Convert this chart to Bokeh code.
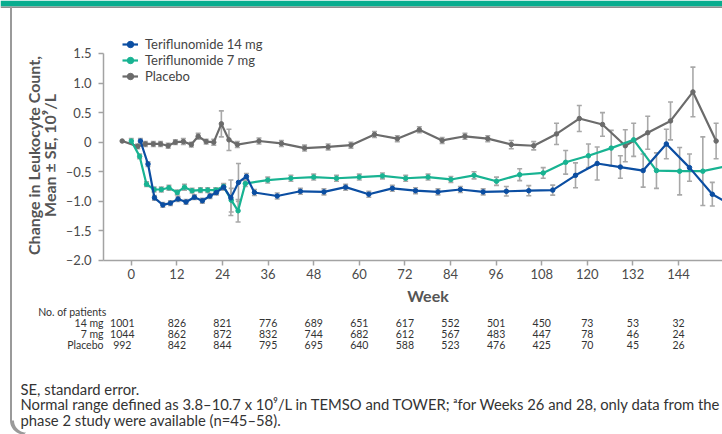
import numpy as np
from bokeh.plotting import figure
from bokeh.models import (Range1d, FixedTicker, Legend, LegendItem, Label,
                          Whisker, TeeHead, ColumnDataSource, PolyAnnotation)
from bokeh.embed import file_html
from bokeh.resources import INLINE

# ---------------- data ----------------
weeks_14 = [2.4, 4.4, 6.1, 8.3, 10.3, 12.3, 14.4, 16.6, 18.7, 20.7, 22.4, 24.3, 26.2, 28.2,
            30.3, 32.4, 38.4, 44.5, 50.7, 56.4, 62.5, 68.7, 74.8, 80.7, 86.6, 92.6, 98.7,
            104.6, 110.9, 116.9, 122.6, 128.7, 134.7, 140.8, 146.9, 152.9, 158.9]
mean_14 = [0.02, -0.37, -0.94, -1.06, -1.03, -0.96, -1.01, -0.93, -0.99, -0.91, -0.85, -0.76,
           -0.94, -0.68, -0.58, -0.85, -0.91, -0.83, -0.84, -0.76, -0.88, -0.78, -0.82, -0.84,
           -0.80, -0.84, -0.83, -0.82, -0.81, -0.56, -0.36, -0.42, -0.48, -0.03, -0.43, -0.88, -1.10]
se_14 = [0.04, 0.04, 0.04, 0.04, 0.04, 0.04, 0.04, 0.04, 0.04, 0.04, 0.04, 0.05, 0.30, 0.32,
         0.05, 0.05, 0.05, 0.05, 0.05, 0.05, 0.05, 0.05, 0.05, 0.05, 0.05, 0.05, 0.08, 0.085,
         0.085, 0.21, 0.28, 0.19, 0.28, 0.25, 0.23, 0.20, 0.20]

weeks_7 = [0.0, 2.2, 4.0, 6.0, 7.9, 9.9, 12.1, 14.0, 16.0, 18.2, 20.1, 22.2, 24.3, 26.3, 28.1,
           30.0, 35.9, 42.0, 48.0, 54.0, 60.0, 66.1, 72.2, 78.1, 84.1, 90.2, 96.1, 102.2,
           108.4, 114.3, 120.3, 126.3, 132.2, 138.2, 144.3, 150.4, 156.4]
mean_7 = [0.02, -0.24, -0.71, -0.80, -0.80, -0.77, -0.85, -0.76, -0.82, -0.81, -0.81, -0.81,
          -0.75, -0.98, -1.16, -0.70, -0.64, -0.61, -0.59, -0.61, -0.59, -0.57, -0.61, -0.59,
          -0.63, -0.56, -0.66, -0.55, -0.52, -0.34, -0.23, -0.10, 0.04, -0.48, -0.49, -0.49, -0.41]
se_7 = [0.04, 0.04, 0.04, 0.04, 0.04, 0.04, 0.04, 0.05, 0.04, 0.04, 0.04, 0.04, 0.05, 0.20,
        0.19, 0.05, 0.05, 0.05, 0.05, 0.05, 0.05, 0.05, 0.05, 0.05, 0.05, 0.06, 0.07, 0.10,
        0.09, 0.20, 0.20, 0.30, 0.28, 0.30, 0.40, 0.58, 0.30]

weeks_pbo = [-2.4, 1.7, 3.7, 5.8, 7.7, 9.7, 11.6, 13.7, 15.8, 17.6, 19.7, 21.7, 23.7, 25.7,
             27.9, 33.6, 39.5, 45.6, 51.8, 57.8, 64.0, 70.0, 75.8, 81.8, 87.8, 93.8, 100.0,
             105.9, 111.9, 117.9, 124.0, 130.0, 135.9, 141.9, 147.8, 153.9]
mean_pbo = [0.02, -0.07, -0.03, -0.03, -0.03, -0.06, 0.00, 0.01, -0.04, 0.10, 0.01, 0.00,
            0.31, 0.04, -0.04, 0.02, -0.02, -0.10, -0.08, -0.05, 0.13, 0.06, 0.21, 0.03, 0.10,
            0.06, -0.04, -0.06, 0.14, 0.40, 0.30, -0.06, 0.16, 0.36, 0.85, 0.02]
se_pbo = [0.0, 0.04, 0.04, 0.04, 0.04, 0.04, 0.04, 0.05, 0.04, 0.05, 0.04, 0.05, 0.22, 0.18,
          0.05, 0.05, 0.05, 0.05, 0.05, 0.05, 0.05, 0.05, 0.05, 0.05, 0.05, 0.05, 0.07, 0.07,
          0.18, 0.22, 0.20, 0.27, 0.28, 0.32, 0.42, 0.30]

x_ticks = [0, 12, 24, 36, 48, 60, 72, 84, 96, 108, 120, 132, 144]
y_ticks = [-2.0, -1.5, -1.0, -0.5, 0.0, 0.5, 1.0, 1.5]
y_tick_labels = ["\u20132.0", "\u20131.5", "\u20131.0", "\u20130.5", "0", "0.5", "1.0", "1.5"]

table_weeks = [0, 12, 24, 36, 48, 60, 72, 84, 96, 108, 120, 132, 144]
table_rows = ["14 mg", "7 mg", "Placebo"]
n_14 = [1001, 826, 821, 776, 689, 651, 617, 552, 501, 450, 73, 53, 32]
n_7 = [1044, 862, 872, 832, 744, 682, 612, 567, 483, 447, 78, 46, 24]
n_pbo = [992, 842, 844, 795, 695, 640, 588, 523, 476, 425, 70, 45, 26]

series_names = ["Teriflunomide 14 mg", "Teriflunomide 7 mg", "Placebo"]

# ---------------- style / layout ----------------
FONT = "Lato"
BLUE = "#0b4ea2"
TEAL = "#18b392"
GRAY = "#6b6b6b"
BAR = "#a8a8a8"
AXIS = "#a3a3a3"
TXT = "#4a4a4a"

W, H = 722, 434
PX_W0, PX_PER_WEEK = 130.8, 3.8      # pixel of week 0, pixels per week
PX_V0, PX_PER_UNIT = 141.7, 59.14    # pixel of value 0, pixels per unit
X_MIN, X_MAX = -PX_W0 / PX_PER_WEEK, (W - PX_W0) / PX_PER_WEEK
Y_MIN, Y_MAX = (PX_V0 - H) / PX_PER_UNIT, PX_V0 / PX_PER_UNIT


def dx(px):  # canvas pixel -> data x
    return (px - PX_W0) / PX_PER_WEEK


def dy(py):  # canvas pixel -> data y
    return (PX_V0 - py) / PX_PER_UNIT


p = figure(width=W, height=H, x_range=Range1d(X_MIN, X_MAX), y_range=Range1d(Y_MIN, Y_MAX),
           output_backend="svg", toolbar_location=None,
           min_border_left=0, min_border_right=0, min_border_top=0, min_border_bottom=0)
p.outline_line_color = None
p.grid.visible = False
p.background_fill_color = "white"
p.border_fill_color = "white"

AXIS_X = dx(103)
for ax in (p.xaxis[0], p.yaxis[0]):
    ax.axis_line_color = AXIS
    ax.axis_line_width = 1.5
    ax.major_tick_line_color = AXIS
    ax.major_tick_line_width = 1.5
    ax.major_tick_out = 5
    ax.major_tick_in = 0
    ax.minor_tick_line_color = None
    ax.major_label_text_font = FONT
    ax.major_label_text_font_size = "13px"
    ax.major_label_text_color = TXT
p.xaxis.ticker = FixedTicker(ticks=x_ticks)
p.yaxis.ticker = FixedTicker(ticks=y_ticks)
p.yaxis.major_label_overrides = {float(v): lab for v, lab in zip(y_ticks, y_tick_labels)}
p.yaxis.major_label_standoff = 7
p.xaxis.major_label_standoff = 4
p.yaxis.fixed_location = AXIS_X
p.xaxis.fixed_location = y_ticks[0]
p.yaxis.bounds = (y_ticks[0], y_ticks[-1])
p.xaxis.bounds = (AXIS_X, X_MAX)

# ---------------- series ----------------
series = [
    (weeks_pbo, mean_pbo, se_pbo, GRAY, series_names[2]),
    (weeks_7, mean_7, se_7, TEAL, series_names[1]),
    (weeks_14, mean_14, se_14, BLUE, series_names[0]),
]
for wk, mn, se, col, name in series:
    wk_a, mn_a, se_a = np.array(wk), np.array(mn), np.array(se)
    keep = se_a > 0
    wsrc = ColumnDataSource(dict(x=wk_a[keep], up=(mn_a + se_a)[keep], lo=(mn_a - se_a)[keep]))
    p.add_layout(Whisker(source=wsrc, base="x", upper="up", lower="lo", dimension="height",
                         line_color=BAR, line_width=1.6, level="underlay",
                         upper_head=TeeHead(size=5, line_color=BAR, line_width=1.6),
                         lower_head=TeeHead(size=5, line_color=BAR, line_width=1.6)))

legend_renderers = {}
for wk, mn, se, col, name in series:
    src = ColumnDataSource(dict(x=wk, y=mn))
    ln = p.line("x", "y", source=src, line_color=col, line_width=2.2)
    dt = p.scatter("x", "y", source=src, marker="circle", size=4.5, fill_color=col, line_color=col)
    legend_renderers[name] = [ln, dt]

legend = Legend(items=[LegendItem(label=n, renderers=legend_renderers[n]) for n in series_names],
                location=(122, 350), orientation="vertical", padding=0, margin=0, spacing=0,
                glyph_width=16, glyph_height=16, label_height=16, label_standoff=7,
                label_text_font=FONT, label_text_font_size="13px", label_text_color="#444444",
                label_text_baseline="middle",
                border_line_color=None, background_fill_alpha=0)
p.add_layout(legend)


# ---------------- texts ----------------
def label(px, py, text, size="13px", color=TXT, align="left", bold=False, angle=0.0):
    p.add_layout(Label(x=dx(px), y=dy(py), text=text, text_font=FONT, text_font_size=size,
                       text_color=color, text_align=align, text_baseline="middle",
                       text_font_style="bold" if bold else "normal", angle=angle))


label(33, 155, "Change in Leukocyte Count,", size="16px", color="#555555", align="center",
      bold=True, angle=np.pi / 2)
label(49, 155, "Mean \u00b1 SE, 10\u2079/L", size="16px", color="#555555", align="center",
      bold=True, angle=np.pi / 2)
label(427.5, 295, "Week", size="16px", color="#555555", align="center", bold=True)

# patients table
TABLE_FS = "10.5px"
label(106, 311.5, "No. of patients", size=TABLE_FS, color="#333333", align="right")
row_y = [322.5, 333.5, 344.5]
for rname, vals, ry in zip(table_rows, [n_14, n_7, n_pbo], row_y):
    label(103, ry, rname, size=TABLE_FS, color="#333333", align="right")
    for i, (w, v) in enumerate(zip(table_weeks, vals)):
        xpix = PX_W0 + w * PX_PER_WEEK - (9 if i == 0 else 0)
        label(xpix, ry, str(v), size=TABLE_FS, color="#333333", align="center")

# footnotes
FOOT_FS = "14.8px"
label(20, 388, "SE, standard error.", size=FOOT_FS, color="#333333")
label(20, 403.5, "Normal range defined as 3.8\u201310.7 x 10\u2079/L in TEMSO and TOWER; "
      "\u1d43for Weeks 26 and 28, only data from the", size=FOOT_FS, color="#333333")
label(20, 419, "phase 2 study were available (n=45\u201358).", size=FOOT_FS, color="#333333")

# ---------------- slide frame decorations ----------------
p.add_layout(PolyAnnotation(xs=[dx(0), dx(W), dx(W), dx(0)],
                            ys=[dy(0), dy(0), dy(6), dy(6)],
                            fill_color="#08ad8f", fill_alpha=1, line_color=None))
p.add_layout(PolyAnnotation(xs=[dx(0), dx(W), dx(W), dx(0)],
                            ys=[dy(6), dy(6), dy(7.5), dy(7.5)],
                            fill_color="#8f8f8f", fill_alpha=1, line_color=None))
ang = np.linspace(np.pi, np.pi / 2, 12)
R = 14
outer_x = [9.5, 9.5] + list(9.5 + R + R * np.cos(ang))
outer_y = [6, 420] + list(420 + R * np.sin(ang))
inner_x = list(11.5 + R + (R - 2) * np.cos(ang[::-1])) + [11.5, 11.5]
inner_y = list(420 + (R - 2) * np.sin(ang[::-1])) + [420, 6]
p.add_layout(PolyAnnotation(xs=[dx(v) for v in outer_x + inner_x],
                            ys=[dy(v) for v in outer_y + inner_y],
                            fill_color="#9a9a9a", fill_alpha=1, line_color=None))

open("out.html", "w").write(file_html(p, INLINE))
